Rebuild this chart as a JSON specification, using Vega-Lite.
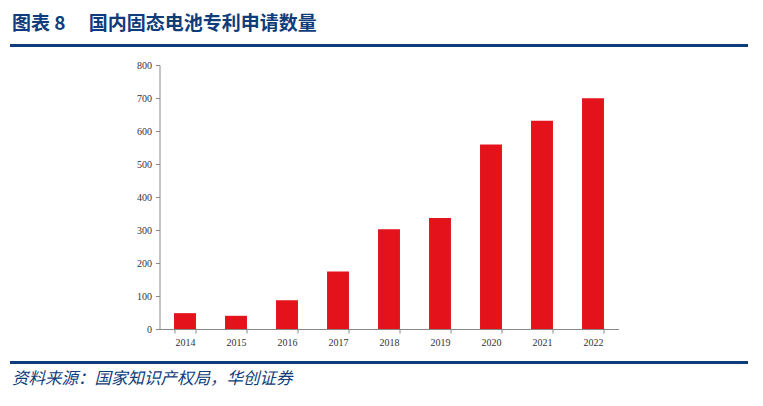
{
  "$schema": "https://vega.github.io/schema/vega-lite/v6.json",
  "background": "white",
  "padding": {"left": 10, "top": 14, "right": 15, "bottom": 5},
  "spacing": 9,
  "center": true,
  "vconcat": [
    {
      "width": 738,
      "height": 3,
      "title": {
        "text": "图表 8　 国内固态电池专利申请数量",
        "anchor": "start",
        "dx": 2,
        "offset": 6,
        "font": "Noto Sans CJK SC",
        "fontSize": 19,
        "fontWeight": "bold",
        "color": "#0f3c7a"
      },
      "view": {"fill": "#0f3c7a", "stroke": null},
      "data": {"values": [{"t": ""}]},
      "mark": "text",
      "encoding": {"text": {"field": "t", "type": "nominal"}}
    },
    {
      "spacing": -4,
      "hconcat": [
        {
          "width": 1,
          "height": 264,
          "view": {"stroke": null},
          "data": {"values": [{"t": ""}]},
          "mark": "text",
          "encoding": {"text": {"field": "t", "type": "nominal"}}
        },
        {
          "width": 459,
          "height": 264,
          "view": {"stroke": null},
          "data": {
            "values": [
              {"year": "2014", "count": 48},
              {"year": "2015", "count": 40},
              {"year": "2016", "count": 87},
              {"year": "2017", "count": 174},
              {"year": "2018", "count": 302},
              {"year": "2019", "count": 336},
              {"year": "2020", "count": 559},
              {"year": "2021", "count": 631},
              {"year": "2022", "count": 699}
            ]
          },
          "mark": {"type": "bar", "color": "#e3121b"},
          "encoding": {
            "x": {
              "field": "year",
              "type": "ordinal",
              "title": null,
              "scale": {"paddingInner": 0.57, "paddingOuter": 0.285},
              "axis": {
                "labelAngle": 0,
                "tickBand": "extent",
                "tickSize": 4,
                "tickColor": "#888",
                "domainColor": "#888",
                "labelFont": "Liberation Serif",
                "labelFontSize": 10,
                "labelColor": "#333",
                "labelPadding": 4
              }
            },
            "y": {
              "field": "count",
              "type": "quantitative",
              "title": null,
              "scale": {"domain": [0, 800]},
              "axis": {
                "values": [0, 100, 200, 300, 400, 500, 600, 700, 800],
                "grid": false,
                "tickSize": 4,
                "tickColor": "#888",
                "domainColor": "#888",
                "labelFont": "Liberation Serif",
                "labelFontSize": 10,
                "labelColor": "#333",
                "labelPadding": 4
              }
            }
          }
        }
      ]
    },
    {
      "width": 738,
      "height": 3,
      "title": {
        "text": "资料来源：国家知识产权局，华创证券",
        "orient": "bottom",
        "anchor": "start",
        "dx": 2,
        "offset": 3,
        "font": "Noto Sans CJK SC",
        "fontSize": 16.5,
        "fontWeight": "normal",
        "fontStyle": "italic",
        "color": "#0f3c7a"
      },
      "view": {"fill": "#0f3c7a", "stroke": null},
      "data": {"values": [{"t": ""}]},
      "mark": "text",
      "encoding": {"text": {"field": "t", "type": "nominal"}}
    }
  ]
}
